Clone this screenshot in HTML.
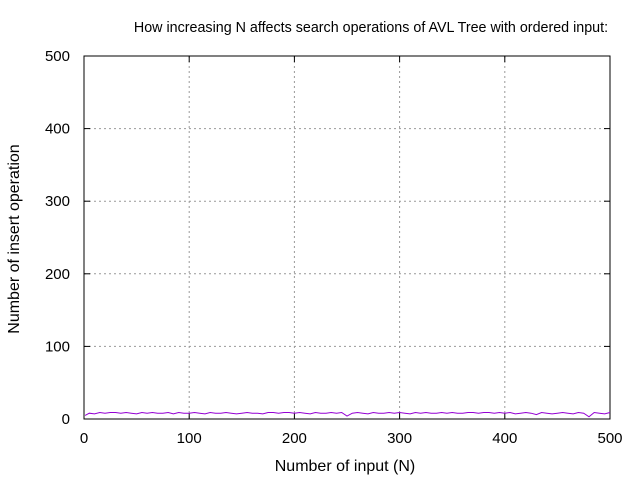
<!DOCTYPE html>
<html><head><meta charset="utf-8"><style>
body{margin:0;background:#fff}
svg{display:block;font-family:"Liberation Sans",sans-serif}
</style></head><body>
<svg id="c" width="640" height="480">
<text x="371" y="32" text-anchor="middle" font-size="14.3">How increasing N affects search operations of AVL Tree with ordered input:</text>
<text x="345" y="471" text-anchor="middle" font-size="16">Number of input (N)</text>
<text transform="translate(19,239) rotate(-90)" text-anchor="middle" font-size="16">Number of insert operation</text>
<g id="grid"></g><g id="ticks"></g>
<rect x="84" y="56" width="526" height="363" fill="none" stroke="#000"/>
<path id="line" fill="none" stroke="#9400d3" stroke-width="1"/>
</svg>
<script>
const xTicks=[0,100,200,300,400,500];
const yTicks=[0,100,200,300,400,500];
const xs=[1,5,10,15,20,25,30,35,40,45,50,55,60,65,70,75,80,85,90,95,100,105,110,115,120,125,130,135,140,145,150,155,160,165,170,175,180,185,190,195,200,205,210,215,220,225,230,235,240,245,250,255,260,265,270,275,280,285,290,295,300,305,310,315,320,325,330,335,340,345,350,355,360,365,370,375,380,385,390,395,400,405,410,415,420,425,430,435,440,445,450,455,460,465,470,475,480,485,490,495,500];
const ys=[5,8,7,9,8,9,9,8,9,8,7,9,8,9,8,8,9,7,9,8,8,9,8,7,9,8,8,9,8,7,8,9,8,8,7,9,9,8,9,9,8,9,8,7,9,8,8,9,8,9,4,8,9,8,7,9,8,8,9,8,9,8,7,9,8,9,8,8,9,8,9,8,8,9,9,8,9,9,8,9,8,9,7,8,9,8,6,9,8,7,8,9,8,7,9,8,3,9,8,7,9];
const X=v=>84+v/500*526, Y=v=>419-v/500*363;
const g=document.getElementById('grid'),t=document.getElementById('ticks'),NS='http://www.w3.org/2000/svg';
function el(p,tag,a){const e=document.createElementNS(NS,tag);for(const k in a)e.setAttribute(k,a[k]);p.appendChild(e);return e;}
xTicks.forEach(v=>{
 if(v>0&&v<500){const l=el(g,'line',{x1:X(v),x2:X(v),y1:56,y2:419,stroke:'#999','stroke-dasharray':'2,3'});
 
 }
 el(t,'line',{x1:X(v),x2:X(v),y1:419,y2:413,stroke:'#000'});el(t,'line',{x1:X(v),x2:X(v),y1:56,y2:62,stroke:'#000'});
 const tx=el(t,'text',{x:X(v),y:443,'text-anchor':'middle','font-size':15});tx.textContent=v;
 
 
});
yTicks.forEach(v=>{
 if(v>0&&v<500){const l=el(g,'line',{x1:84,x2:610,y1:Y(v),y2:Y(v),stroke:'#999','stroke-dasharray':'2,3'});
 
 }
 el(t,'line',{x1:84,x2:90,y1:Y(v),y2:Y(v),stroke:'#000'});el(t,'line',{x1:604,x2:610,y1:Y(v),y2:Y(v),stroke:'#000'});
 const tx=el(t,'text',{x:70,y:Y(v)+5,'text-anchor':'end','font-size':15});tx.textContent=v;
 
 
});
document.getElementById('line').setAttribute('d',xs.map((x,i)=>(i?'L':'M')+X(x).toFixed(1)+','+Y(ys[i]).toFixed(1)).join(''));
</script>
</body></html>
